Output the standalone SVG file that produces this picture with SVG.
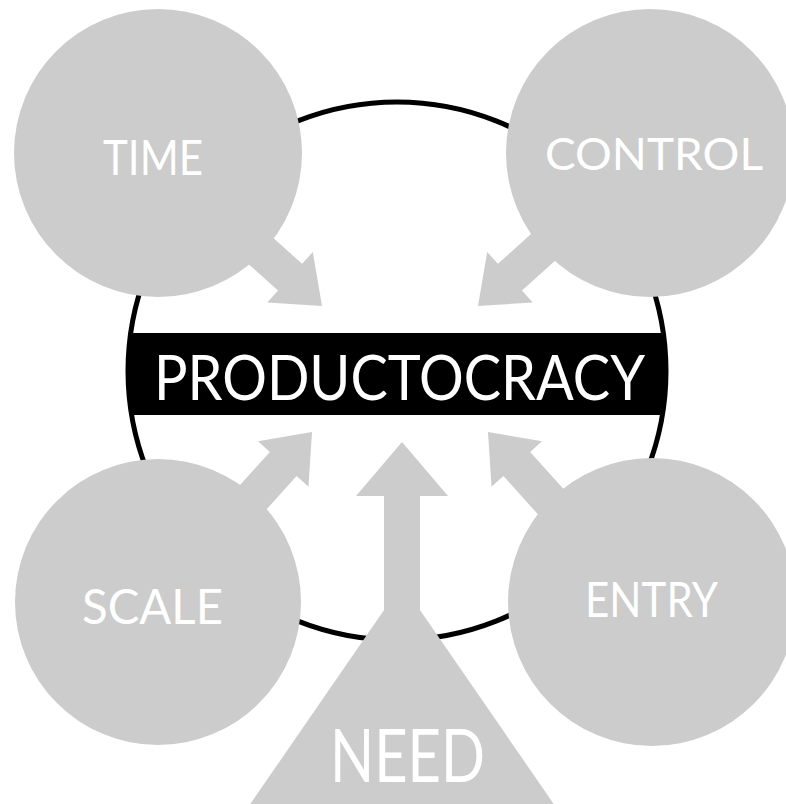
<svg xmlns="http://www.w3.org/2000/svg" width="786" height="804" viewBox="0 0 786 804">
  <style>
    .node { fill: #cccccc; }
    .arrow { fill: #cccccc; }
    .lbl { fill: #ffffff; font-family: Lato, "Open Sans", "Liberation Sans", sans-serif; font-weight: 400; text-anchor: start; }
  </style>
  <defs>
    <clipPath id="bigclip">
      <circle cx="397" cy="371" r="269"/>
    </clipPath>
    <path id="arr" d="M0,0 L-43,-34 L-43,-18 L-150,-18 L-150,18 L-43,18 L-43,34 Z"/>
  </defs>
  <rect width="786" height="804" fill="#ffffff"/>

  <g id="productocracy">
    <circle cx="397" cy="371" r="269" fill="#ffffff" stroke="#000000" stroke-width="5"/>
    <rect x="100" y="333" width="600" height="82" fill="#000000" clip-path="url(#bigclip)"/>
    <text class="lbl" x="154" y="400" font-size="61" textLength="491" lengthAdjust="spacingAndGlyphs">PRODUCTOCRACY</text>
  </g>

  <g id="connectors">
    <use href="#arr" class="arrow" transform="translate(322,306) rotate(42)"/>
    <use href="#arr" class="arrow" transform="translate(478,306) rotate(138)"/>
    <use href="#arr" class="arrow" transform="translate(312,432) rotate(-48)"/>
    <use href="#arr" class="arrow" transform="translate(488,432) rotate(-132)"/>
    <path class="arrow" d="M402,442 L448,496 L420,496 L420,640 L384,640 L384,496 L356,496 Z"/>
  </g>

  <g id="time">
    <circle class="node" cx="158" cy="153" r="144"/>
    <text class="lbl" x="103" y="175" font-size="48" textLength="100" lengthAdjust="spacingAndGlyphs">TIME</text>
  </g>
  <g id="control">
    <circle class="node" cx="650" cy="153" r="144"/>
    <text class="lbl" x="545" y="170" font-size="44" textLength="218" lengthAdjust="spacingAndGlyphs">CONTROL</text>
  </g>
  <g id="scale">
    <circle class="node" cx="158" cy="602" r="143"/>
    <text class="lbl" x="82" y="624" font-size="48" textLength="141" lengthAdjust="spacingAndGlyphs">SCALE</text>
  </g>
  <g id="entry">
    <circle class="node" cx="652" cy="602" r="144"/>
    <text class="lbl" x="585" y="617" font-size="48" textLength="133" lengthAdjust="spacingAndGlyphs">ENTRY</text>
  </g>
  <g id="need">
    <path class="node" d="M402,584 L562,816 L242,816 Z"/>
    <text class="lbl" x="330" y="782" font-size="74" textLength="155" lengthAdjust="spacingAndGlyphs">NEED</text>
  </g>
</svg>
